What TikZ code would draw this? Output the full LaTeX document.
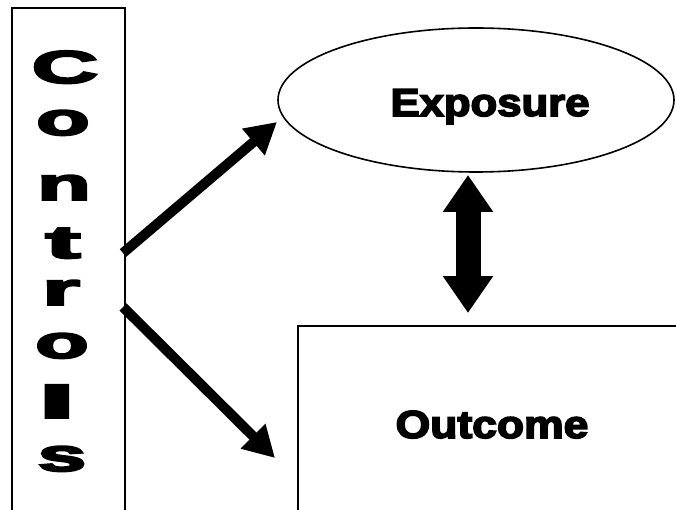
\documentclass[tikz,border=0pt]{standalone}
\usepackage{fontspec}
\usepackage{graphicx}
\newfontfamily\heavy[FakeBold=4]{Liberation Sans Bold}
\usetikzlibrary{arrows.meta,shapes.geometric}

\begin{document}
\begin{tikzpicture}[x=1pt,y=-1pt,
  frame/.style={draw=black,line width=1.6pt,inner sep=0pt},
  bigword/.style={inner sep=0pt,anchor=base,font=\heavy\fontsize{39}{39}\selectfont},
  letter/.style={inner sep=0pt,anchor=base,font=\heavy\fontsize{46}{46}\selectfont},
  thinarrow/.style={line width=10pt,-{Triangle[length=31pt,width=33pt]}},
  fatarrow/.style={line width=25pt,{Triangle[length=37pt,width=48pt]}-{Triangle[length=37pt,width=48pt]}}]
\useasboundingbox (0,0) rectangle (676,510);
\clip (0,0) rectangle (676,510);
\fill[white] (0,0) rectangle (676,510);

% tall box holding the stacked word
\node[frame, rectangle, anchor=north west, minimum width=113pt, minimum height=540pt] (controls) at (11,7) {};
\node[letter] (lC)  at (65,83)  {\scalebox{2.0}[1]{C}};
\node[letter] (lo1) at (63,135) {\scalebox{1.9}[1]{o}};
\node[letter] (ln)  at (64,200) {\scalebox{1.9}[1]{n}};
\node[letter] (lt)  at (63,258) {\scalebox{2.3}[1]{t}};
\node[letter] (lr)  at (61,305) {\scalebox{2.1}[1]{r}};
\node[letter] (lo2) at (62,358) {\scalebox{1.9}[1]{o}};
\node[letter] (ll)  at (57,418) {\scalebox{3.0}[1]{l}};
\node[letter] (ls)  at (62,471) {\scalebox{1.9}[1]{s}};

% exposure ellipse
\node[frame, ellipse, minimum width=396pt, minimum height=144pt] (exposure) at (476,100) {};
\node[bigword] (exposurelabel) at (490,116) {\scalebox{1.12}[1]{Exposure}};

% outcome box, running off the lower right
\node[frame, rectangle, anchor=north west, minimum width=420pt, minimum height=220pt] (outcome) at (297,325) {};
\node[bigword] (outcomelabel) at (492,438) {\scalebox{1.14}[1]{Outcome}};

% connector end points
\coordinate (cup) at (123,253);
\coordinate (eup) at (277,122);
\coordinate (cdown) at (123,307);
\coordinate (odown) at (275,458);
\coordinate (etop) at (468,175);
\coordinate (obot) at (468,313);

\draw[thinarrow] (cup) -- (eup);
\draw[thinarrow] (cdown) -- (odown);
\draw[fatarrow] (etop) -- (obot);
\end{tikzpicture}
\end{document}
